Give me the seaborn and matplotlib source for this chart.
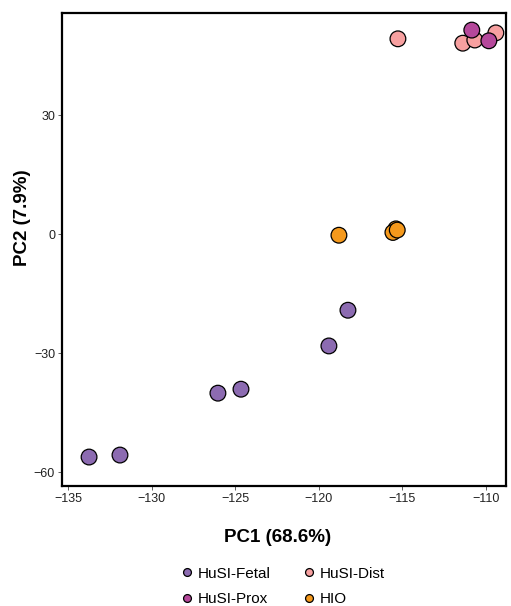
import pandas as pd
import seaborn as sns
import matplotlib.pyplot as plt

groups = ["HuSI-Fetal"] * 6 + ["HIO"] * 4 + ["HuSI-Dist"] * 4 + ["HuSI-Prox"] * 2
pc1 = [-133.74, -131.89, -126.03, -124.65, -119.39, -118.25,
       -118.79, -115.38, -115.56, -115.30,
       -115.26, -111.38, -110.66, -109.40,
       -110.84, -109.82]
pc2 = [-56.2, -55.7, -40.1, -39.1, -28.2, -19.2,
       -0.3, 1.3, 0.4, 1.0,
       49.2, 48.1, 48.9, 50.7,
       51.4, 48.7]

hue_order = ["HuSI-Fetal", "HuSI-Prox", "HuSI-Dist", "HIO"]
palette = {"HuSI-Fetal": "#8c6bb1", "HuSI-Prox": "#b5489b",
           "HuSI-Dist": "#f7a0a0", "HIO": "#f5991c"}

df = pd.DataFrame({"PC1": pc1, "PC2": pc2, "group": groups})

sns.set_style("white")
plt.rcParams["font.family"] = ["Liberation Sans", "DejaVu Sans"]
plt.rcParams["text.color"] = "black"

fig = plt.figure(figsize=(5.11, 6.06), dpi=100)
ax = fig.add_axes([0.1213, 0.198, 0.8687, 0.7805])

sns.scatterplot(data=df, x="PC1", y="PC2", hue="group", hue_order=hue_order,
                palette=palette, s=128, edgecolor="black", linewidth=0.9,
                ax=ax, legend=True, zorder=3)

ax.set_xlim(-135.36, -108.8)
ax.set_ylim(-63.5, 55.7)
ax.set_xticks([-135, -130, -125, -120, -115, -110])
ax.set_yticks([-60, -30, 0, 30])
ax.tick_params(axis="both", labelsize=9, length=3, width=0.6, direction="out",
               bottom=True, left=True, pad=2, labelcolor="#222222", color="#444444")
for sp in ax.spines.values():
    sp.set_linewidth(1.6)
    sp.set_color("black")

ax.set_xlabel("PC1 (68.6%)", fontsize=13.5, fontweight="bold", color="black")
ax.set_ylabel("PC2 (7.9%)", fontsize=13.5, fontweight="bold", color="black")
ax.xaxis.set_label_coords(0.485, -0.09)
ax.yaxis.set_label_coords(-0.07, 0.567)

handles, labels = ax.get_legend_handles_labels()
ax.legend(handles, labels, loc="center", bbox_to_anchor=(0.498, -0.212),
          ncol=2, frameon=False, fontsize=11, markerscale=0.5,
          handlelength=0.8, handletextpad=0.3, columnspacing=2.1,
          labelspacing=0.75)

fig.savefig("out.png", dpi=100)
